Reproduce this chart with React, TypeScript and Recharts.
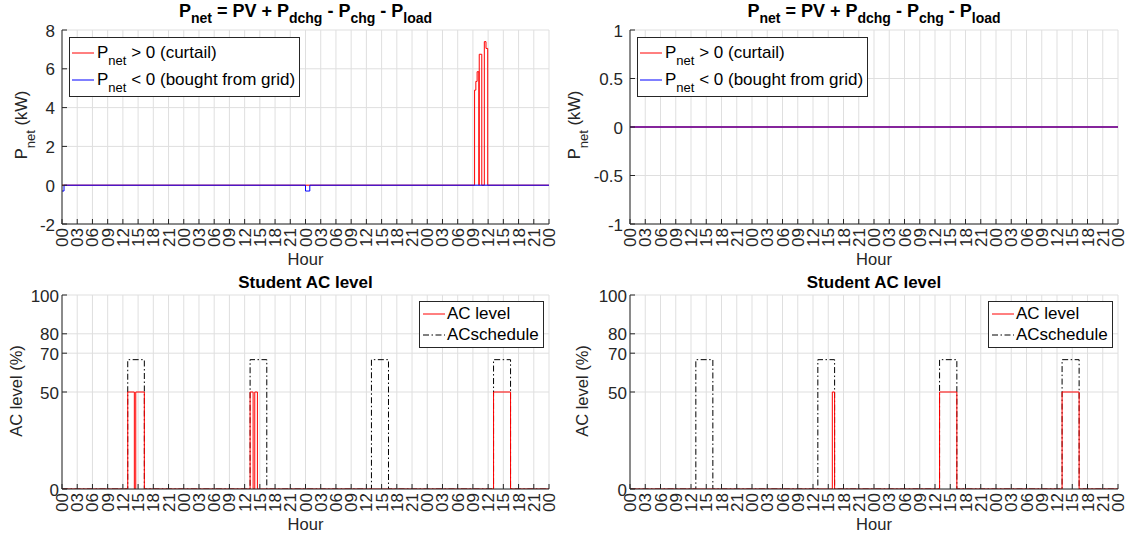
import React from 'react';
import { LineChart, Line, XAxis, YAxis, CartesianGrid, Legend } from 'recharts';

const FONT = '"Liberation Sans", Arial, Helvetica, sans-serif';
const AXIS = '#262626';
const GRID = '#dfdfdf';
const RED = '#ff0000';
const BLUE = '#0000ff';
const TICK_FS = 17;

// x axis: hours over four days, a tick every three hours
const hourTicks = [0, 3, 6, 9, 12, 15, 18, 21, 24, 27, 30, 33, 36, 39, 42, 45, 48, 51, 54, 57, 60, 63, 66, 69, 72, 75, 78, 81, 84, 87, 90, 93, 96];
const hourTickLabels = ['00', '03', '06', '09', '12', '15', '18', '21', '00', '03', '06', '09', '12', '15', '18', '21', '00', '03', '06', '09', '12', '15', '18', '21', '00', '03', '06', '09', '12', '15', '18', '21', '00'];

const pnetTicksA = [-2, 0, 2, 4, 6, 8];
const pnetTicksB = [-1, -0.5, 0, 0.5, 1];
const acTicks = [0, 50, 70, 80, 100];
const scheduleTicks = [0, 1];

// Left column: P_net (step change points)
const curtailHoursA = [0, 81.33, 81.58, 81.83, 82.17, 82.25, 82.75, 83.25, 83.58, 83.92, 96];
const curtailKWA = [0, 4.9, 5.35, 5.85, 0, 6.75, 0, 7.4, 7.05, 0, 0];
const boughtHoursA = [0, 0.4, 48.0, 48.85, 96];
const boughtKWA = [-0.3, 0, -0.3, 0, 0];

// Right column: P_net
const curtailHoursB = [0, 96];
const curtailKWB = [0, 0];
const boughtHoursB = [0, 96];
const boughtKWB = [0, 0];

// Left column: AC level and schedule
const acHoursA = [0, 12.96, 14.26, 14.54, 16.23, 37.08, 37.67, 38.0, 38.52, 85.07, 88.42, 96];
const acLevelA = [0, 50, 0, 50, 0, 50, 0, 50, 0, 50, 0, 0];
const scheduleHoursA = [0, 12.96, 16.23, 37.08, 40.37, 61.0, 64.36, 85.07, 88.42, 96];
const scheduleA = [0, 1, 0, 1, 0, 1, 0, 1, 0, 0];

// Right column: AC level and schedule
const acHoursB = [0, 39.8, 40.25, 60.9, 64.3, 85.0, 88.35, 96];
const acLevelB = [0, 50, 0, 50, 0, 50, 0, 0];
const scheduleHoursB = [0, 12.95, 16.3, 36.95, 40.25, 60.9, 64.3, 85.0, 88.35, 96];
const scheduleB = [0, 1, 0, 1, 0, 1, 0, 1, 0, 0];

type Pt = { t: number; v: number };
const toRows = (hours: number[], values: number[]): Pt[] => hours.map((t, i) => ({ t, v: values[i] }));

const BottomHourTick = (p: any) => {
  const i = hourTicks.indexOf(p.payload.value);
  return (
    <g>
      <line x1={p.x} x2={p.x} y1={p.y} y2={p.y - 5} stroke={AXIS} />
      <text
        transform={`translate(${p.x},${p.y + 4}) rotate(-90)`}
        x={0}
        y={6}
        textAnchor="end"
        fontSize={TICK_FS}
        fontFamily={FONT}
        fill={AXIS}
      >
        {hourTickLabels[i]}
      </text>
    </g>
  );
};

const TopHourTick = (p: any) => <line x1={p.x} x2={p.x} y1={p.y} y2={p.y + 5} stroke={AXIS} />;

const makeLeftTick = (gap: number) => (p: any) => (
  <g>
    <line x1={p.x} x2={p.x + 5} y1={p.y} y2={p.y} stroke={AXIS} />
    <text x={p.x - gap} y={p.y + 6.5} textAnchor="end" fontSize={TICK_FS} fontFamily={FONT} fill={AXIS}>
      {String(p.payload.value)}
    </text>
  </g>
);

const RightTickMark = (p: any) => <line x1={p.x} x2={p.x - 5} y1={p.y} y2={p.y} stroke={AXIS} />;

const RedRightTick = (p: any) => (
  <g>
    <line x1={p.x} x2={p.x - 5} y1={p.y} y2={p.y} stroke={RED} />
    <text x={p.x + 4} y={p.y + 6.5} textAnchor="start" fontSize={TICK_FS} fontFamily={FONT} fill={RED}>
      {String(p.payload.value)}
    </text>
  </g>
);

const sampleLine = (color: string, dash?: string) => (
  <svg width={22} height={10} style={{ display: 'block' }}>
    <line x1={0} x2={22} y1={5} y2={5} stroke={color} strokeWidth={1} strokeDasharray={dash} />
  </svg>
);

const subStyle: React.CSSProperties = { fontSize: 13, position: 'relative', top: 7 };

const PnetLegendBox = () => (
  <div
    style={{
      border: `1px solid ${AXIS}`,
      background: '#fff',
      padding: '1px 4px 3px 2px',
      fontFamily: FONT,
      fontSize: 17,
      color: '#000',
      whiteSpace: 'nowrap',
    }}
  >
    <div style={{ display: 'flex', alignItems: 'center', height: 27 }}>
      {sampleLine(RED)}
      <span style={{ marginLeft: 3 }}>
        P<span style={subStyle}>net</span> &gt; 0 (curtail)
      </span>
    </div>
    <div style={{ display: 'flex', alignItems: 'center', height: 27 }}>
      {sampleLine(BLUE)}
      <span style={{ marginLeft: 3 }}>
        P<span style={subStyle}>net</span> &lt; 0 (bought from grid)
      </span>
    </div>
  </div>
);

const ACLegendBox = () => (
  <div
    style={{
      border: `1px solid ${AXIS}`,
      background: '#fff',
      padding: '1px 4px 2px 3px',
      fontFamily: FONT,
      fontSize: 17,
      color: '#000',
      whiteSpace: 'nowrap',
    }}
  >
    <div style={{ display: 'flex', alignItems: 'center', height: 21 }}>
      {sampleLine(RED)}
      <span style={{ marginLeft: 2 }}>AC level</span>
    </div>
    <div style={{ display: 'flex', alignItems: 'center', height: 21 }}>
      {sampleLine('#000', '6 2.5 1.5 2.5')}
      <span style={{ marginLeft: 2 }}>ACschedule</span>
    </div>
  </div>
);

type PnetProps = {
  left: number;
  width: number;
  plotLeft: number;
  plotRight: number;
  curtail: Pt[];
  bought: Pt[];
  yDomain: [number, number];
  yTicks: number[];
  labelGap: number;
  legendLeft: number;
  blended: boolean;
};

function PnetPanel(props: PnetProps) {
  const { left, width, plotLeft, plotRight, curtail, bought, yDomain, yTicks, labelGap, legendLeft, blended } = props;
  return (
    <div style={{ position: 'absolute', left, top: 0 }}>
      <LineChart width={width} height={270} margin={{ top: 30, right: width - plotRight, left: 0, bottom: 0 }}>
        <CartesianGrid stroke={GRID} />
        <XAxis
          type="number"
          dataKey="t"
          domain={[0, 96]}
          ticks={hourTicks}
          interval={0}
          height={46}
          tickSize={0}
          tickMargin={0}
          tickLine={false}
          tick={BottomHourTick}
          axisLine={{ stroke: AXIS }}
          allowDataOverflow
        />
        <XAxis
          xAxisId="top"
          orientation="top"
          type="number"
          dataKey="t"
          domain={[0, 96]}
          ticks={hourTicks}
          interval={0}
          height={0}
          tickSize={0}
          tickMargin={0}
          tickLine={false}
          tick={TopHourTick}
          axisLine={{ stroke: AXIS }}
          allowDataOverflow
        />
        <YAxis
          type="number"
          domain={yDomain}
          ticks={yTicks}
          interval={0}
          width={plotLeft}
          tickSize={0}
          tickMargin={0}
          tickLine={false}
          tick={makeLeftTick(labelGap)}
          axisLine={{ stroke: AXIS }}
          allowDataOverflow
        />
        <YAxis
          yAxisId="r"
          orientation="right"
          type="number"
          domain={yDomain}
          ticks={yTicks}
          interval={0}
          width={0}
          tickSize={0}
          tickMargin={0}
          tickLine={false}
          tick={RightTickMark}
          axisLine={{ stroke: AXIS }}
          allowDataOverflow
        />
        {blended ? (
          <Line data={bought} dataKey="v" type="stepAfter" stroke={BLUE} strokeWidth={1.3} dot={false} isAnimationActive={false} />
        ) : null}
        <Line
          data={curtail}
          dataKey="v"
          type="stepAfter"
          stroke={RED}
          strokeWidth={blended ? 1.3 : 1}
          strokeOpacity={blended ? 0.5 : 1}
          dot={false}
          isAnimationActive={false}
        />
        {!blended ? (
          <Line data={bought} dataKey="v" type="stepAfter" stroke={BLUE} strokeWidth={1} dot={false} isAnimationActive={false} />
        ) : null}
        <Legend
          layout="vertical"
          align="center"
          verticalAlign="middle"
          wrapperStyle={{ left: legendLeft, top: 37, width: 'auto', height: 'auto' }}
          content={() => <PnetLegendBox />}
        />
      </LineChart>
    </div>
  );
}

type ACProps = {
  left: number;
  width: number;
  plotLeft: number;
  plotRight: number;
  level: Pt[];
  schedule: Pt[];
  legendLeft: number;
};

function ACPanel(props: ACProps) {
  const { left, width, plotLeft, plotRight, level, schedule, legendLeft } = props;
  return (
    <div style={{ position: 'absolute', left, top: 270 }}>
      <LineChart width={width} height={269} margin={{ top: 25, right: width - plotRight, left: 0, bottom: 0 }}>
        <CartesianGrid stroke={GRID} />
        <XAxis
          type="number"
          dataKey="t"
          domain={[0, 96]}
          ticks={hourTicks}
          interval={0}
          height={50}
          tickSize={0}
          tickMargin={0}
          tickLine={false}
          tick={BottomHourTick}
          axisLine={{ stroke: AXIS }}
          allowDataOverflow
        />
        <XAxis
          xAxisId="top"
          orientation="top"
          type="number"
          dataKey="t"
          domain={[0, 96]}
          ticks={hourTicks}
          interval={0}
          height={0}
          tickSize={0}
          tickMargin={0}
          tickLine={false}
          tick={TopHourTick}
          axisLine={{ stroke: AXIS }}
          allowDataOverflow
        />
        <YAxis
          type="number"
          domain={[0, 100]}
          ticks={acTicks}
          interval={0}
          width={plotLeft}
          tickSize={0}
          tickMargin={0}
          tickLine={false}
          tick={makeLeftTick(3)}
          axisLine={{ stroke: AXIS }}
          allowDataOverflow
        />
        <YAxis
          yAxisId="r"
          orientation="right"
          type="number"
          domain={[0, 1.5]}
          ticks={scheduleTicks}
          interval={0}
          width={0}
          tickSize={0}
          tickMargin={0}
          tickLine={false}
          tick={RedRightTick}
          axisLine={{ stroke: RED }}
          allowDataOverflow
        />
        <Line
          data={schedule}
          yAxisId="r"
          dataKey="v"
          type="stepAfter"
          stroke="#000"
          strokeWidth={1}
          strokeDasharray="6 2.5 1.5 2.5"
          dot={false}
          isAnimationActive={false}
        />
        <Line data={level} dataKey="v" type="stepAfter" stroke={RED} strokeWidth={1} dot={false} isAnimationActive={false} />
        <Legend
          layout="vertical"
          align="center"
          verticalAlign="middle"
          wrapperStyle={{ left: legendLeft, top: 31, width: 'auto', height: 'auto' }}
          content={() => <ACLegendBox />}
        />
      </LineChart>
    </div>
  );
}

const PnetTitle = ({ cx }: { cx: number }) => (
  <text x={cx} y={17} textAnchor="middle" fontWeight="bold" fontSize={18} fontFamily={FONT} fill="#000">
    P<tspan dy={6} fontSize={14}>net</tspan>
    <tspan dy={-6}> = PV + P</tspan>
    <tspan dy={6} fontSize={14}>dchg</tspan>
    <tspan dy={-6}> - P</tspan>
    <tspan dy={6} fontSize={14}>chg</tspan>
    <tspan dy={-6}> - P</tspan>
    <tspan dy={6} fontSize={14}>load</tspan>
  </text>
);

const PnetYLabel = ({ x }: { x: number }) => (
  <text transform={`translate(${x},125) rotate(-90)`} textAnchor="middle" fontSize={16.5} fontFamily={FONT} fill={AXIS}>
    P<tspan dy={8} fontSize={13}>net</tspan>
    <tspan dy={-8}> (kW)</tspan>
  </text>
);

const ACYLabel = ({ x }: { x: number }) => (
  <text transform={`translate(${x},391) rotate(-90)`} textAnchor="middle" fontSize={16.5} fontFamily={FONT} fill={AXIS}>
    AC level (%)
  </text>
);

const HourLabel = ({ cx, y }: { cx: number; y: number }) => (
  <text x={cx} y={y} textAnchor="middle" fontSize={16.5} fontFamily={FONT} fill={AXIS}>
    Hour
  </text>
);

export default function App() {
  const curtailA = toRows(curtailHoursA, curtailKWA);
  const boughtA = toRows(boughtHoursA, boughtKWA);
  const curtailB = toRows(curtailHoursB, curtailKWB);
  const boughtB = toRows(boughtHoursB, boughtKWB);
  const levelA = toRows(acHoursA, acLevelA);
  const schedA = toRows(scheduleHoursA, scheduleA);
  const levelB = toRows(acHoursB, acLevelB);
  const schedB = toRows(scheduleHoursB, scheduleB);

  return (
    <div style={{ position: 'absolute', left: 0, top: 0, width: 1131, height: 539, background: '#fff', overflow: 'hidden' }}>
      <PnetPanel
        left={0}
        width={565}
        plotLeft={62}
        plotRight={549}
        curtail={curtailA}
        bought={boughtA}
        yDomain={[-2, 8]}
        yTicks={pnetTicksA}
        labelGap={7}
        legendLeft={69}
        blended={false}
      />
      <PnetPanel
        left={565}
        width={566}
        plotLeft={65}
        plotRight={553}
        curtail={curtailB}
        bought={boughtB}
        yDomain={[-1, 1]}
        yTicks={pnetTicksB}
        labelGap={7}
        legendLeft={72}
        blended={true}
      />
      <ACPanel left={0} width={565} plotLeft={62} plotRight={549} level={levelA} schedule={schedA} legendLeft={419} />
      <ACPanel left={565} width={566} plotLeft={65} plotRight={553} level={levelB} schedule={schedB} legendLeft={423} />
      <svg width={1131} height={539} style={{ position: 'absolute', left: 0, top: 0, pointerEvents: 'none' }}>
        <PnetTitle cx={305.5} />
        <PnetTitle cx={874} />
        <PnetYLabel x={27} />
        <PnetYLabel x={580} />
        <ACYLabel x={22} />
        <ACYLabel x={588} />
        <text x={305.5} y={288} textAnchor="middle" fontWeight="bold" fontSize={17} fontFamily={FONT} fill="#000">
          Student AC level
        </text>
        <text x={874} y={288} textAnchor="middle" fontWeight="bold" fontSize={17} fontFamily={FONT} fill="#000">
          Student AC level
        </text>
        <HourLabel cx={305.5} y={265} />
        <HourLabel cx={874} y={265} />
        <HourLabel cx={305.5} y={530} />
        <HourLabel cx={874} y={530} />
      </svg>
    </div>
  );
}
